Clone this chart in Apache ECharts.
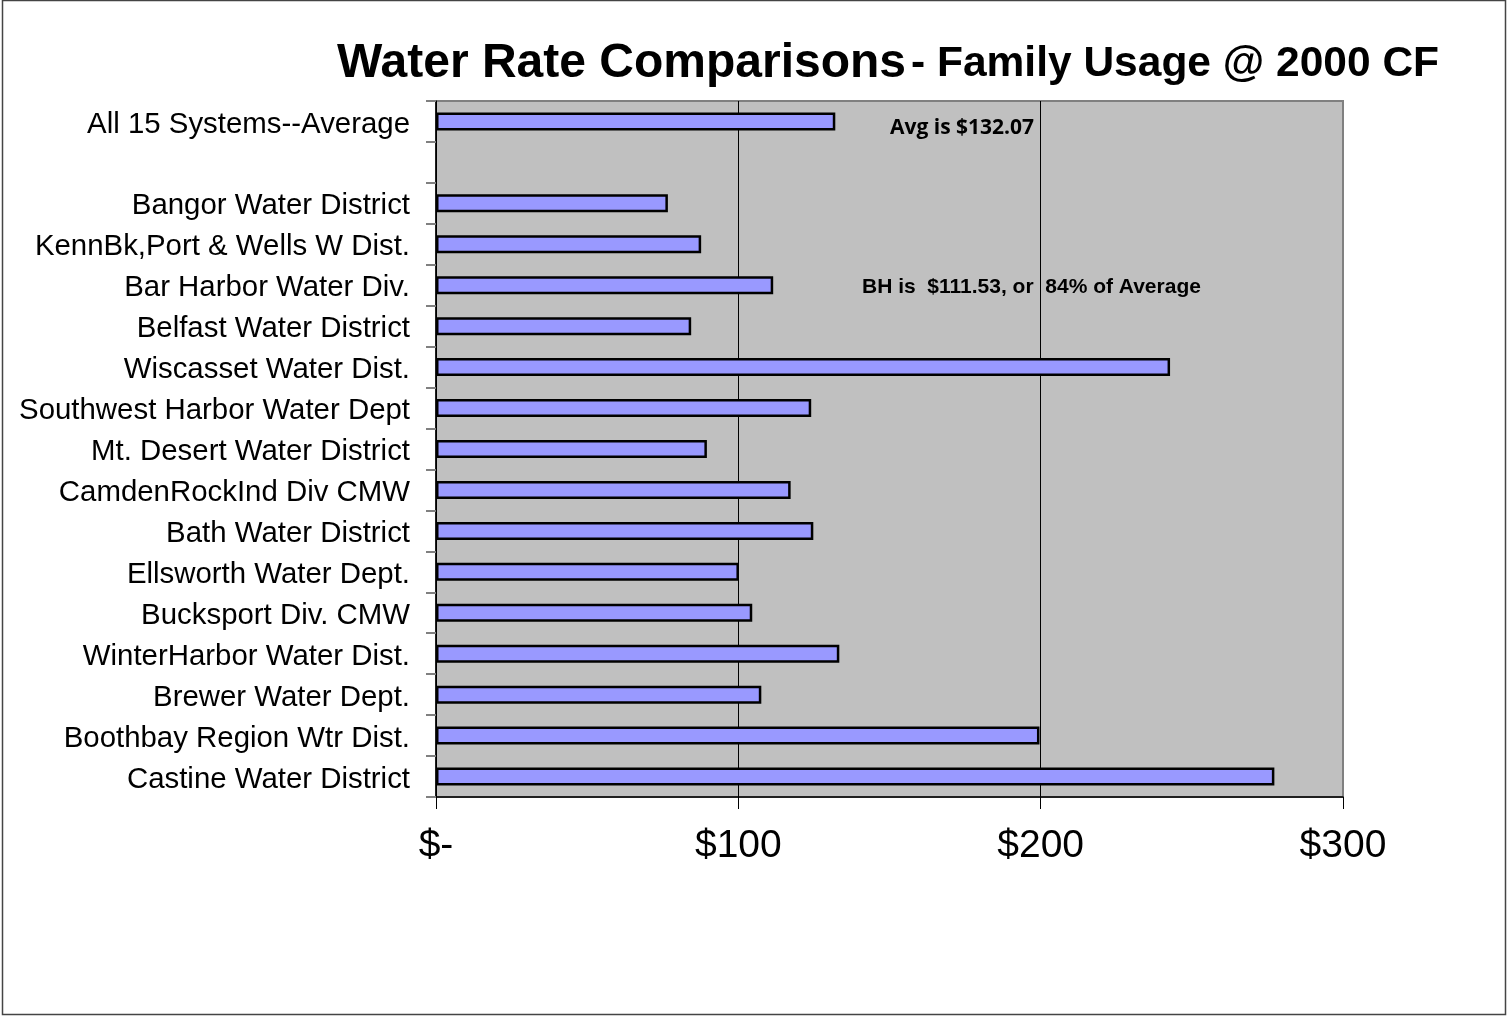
<!DOCTYPE html>
<html>
<head>
<meta charset="utf-8">
<title>Water Rate Comparisons</title>
<script src="https://cdn.jsdelivr.net/npm/echarts@6/dist/echarts.min.js"></script>
<style>
html, body { margin: 0; padding: 0; background: #fff; }
#chart { width: 1507px; height: 1017px; }
</style>
</head>
<body>
<div id="chart"></div>
<script>
// top to bottom, blank slot after the average row
const systems = [
	"All 15 Systems--Average",
	"",
	"Bangor Water District",
	"KennBk,Port & Wells W Dist.",
	"Bar Harbor Water Div.",
	"Belfast Water District",
	"Wiscasset Water Dist.",
	"Southwest Harbor Water Dept",
	"Mt. Desert Water District",
	"CamdenRockInd Div CMW",
	"Bath Water District",
	"Ellsworth Water Dept.",
	"Bucksport Div. CMW",
	"WinterHarbor Water Dist.",
	"Brewer Water Dept.",
	"Boothbay Region Wtr Dist.",
	"Castine Water District",
]
const rates = [
	132.07, null, 76.7, 87.7, 111.53, 84.4, 242.8, 124.1, 89.6,
	117.3, 124.8, 100.2, 104.6, 133.4, 107.6, 199.6, 277.3,
]
const xTicks = [0, 100, 200, 300]
const notes = ["Avg is $132.07", "BH is  $111.53, or  84% of Average"]

const chart = echarts.init(document.getElementById("chart"))

chart.setOption({
	backgroundColor: "#fff",
	animation: false,
	title: {
		text: "{a|Water Rate Comparisons} {b|- Family Usage @ 2000 CF}",
		left: 332,
		top: 35,
		textStyle: {
			rich: {
				a: { fontFamily: "Liberation Sans, Arial", fontWeight: "bold", fontSize: 48, color: "#000" },
				b: { fontFamily: "Liberation Sans, Arial", fontWeight: "bold", fontSize: 42.5, color: "#000" },
			},
		},
	},
	grid: {
		left: 436,
		right: 164,
		top: 101,
		bottom: 220,
		show: true,
		backgroundColor: "#C0C0C0",
		borderColor: "#808080",
		borderWidth: 2,
	},
	xAxis: {
		type: "value",
		min: xTicks[0],
		max: xTicks[xTicks.length - 1],
		interval: 100,
		axisLine: { show: true, lineStyle: { color: "#000", width: 1.5 } },
		axisTick: { show: true, length: 12, lineStyle: { color: "#000" } },
		axisLabel: {
			margin: 30,
			fontFamily: "Liberation Sans, Arial",
			fontSize: 39,
			color: "#000",
			formatter: v => (v === 0 ? "$-" : "$" + v),
		},
		splitLine: {
			show: true,
			lineStyle: { color: ["#000", "#000", "#000", "#808080"], width: 1 },
		},
	},
	yAxis: {
		type: "category",
		inverse: true,
		data: systems,
		axisLine: { show: true, lineStyle: { color: "#000", width: 1.5 } },
		axisTick: { show: true, length: 10, lineStyle: { color: "#808080", width: 2 } },
		axisLabel: {
			margin: 26,
			formatter: v => "{n|" + v + "}",
			rich: {
				n: {
					fontFamily: "Liberation Sans, Arial",
					fontSize: 29.4,
					color: "#000",
					padding: [6, 0, 0, 0],
				},
			},
		},
	},
	series: [
		{
			type: "bar",
			data: rates,
			barWidth: 18,
			itemStyle: {
				color: "#9999FF",
				borderColor: "#000",
				borderWidth: 2.5,
			},
		},
	],
	graphic: [
		{
			type: "text",
			left: 890,
			top: 118,
			style: { text: notes[0], font: "bold 21px 'Open Sans', sans-serif", fill: "#000" },
		},
		{
			type: "text",
			left: 862,
			top: 277,
			style: { text: notes[1], font: "bold 21px Liberation Sans, Arial, sans-serif", fill: "#000" },
		},
		{
			type: "rect",
			shape: { x: 2.5, y: 0.5, width: 1503, height: 1014 },
			style: { fill: "none", stroke: "#444", lineWidth: 1.5 },
		},
	],
})
</script>
</body>
</html>
